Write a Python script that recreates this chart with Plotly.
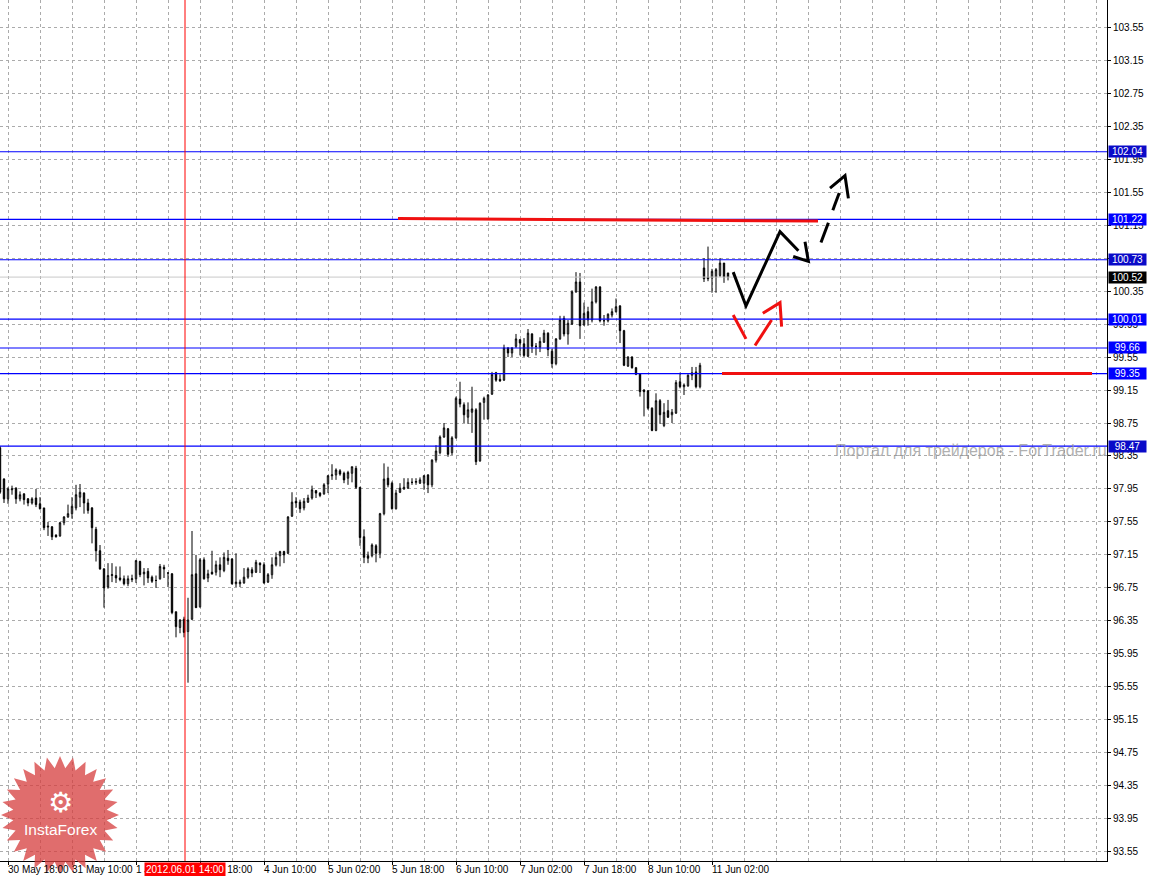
import plotly.graph_objects as go
import numpy as np

# ---------------- data (H1 bars, bar index 0 = 30 May 18:00) ----------------
bars = list(range(-2, 181))
opens = [98.45, 98.07, 97.83, 97.94, 97.96, 97.83, 97.89, 97.83, 97.78, 97.84,
         97.77, 97.72, 97.50, 97.49, 97.39, 97.38, 97.54, 97.61, 97.65, 97.72,
         97.85, 97.90, 97.78, 97.72, 97.46, 97.20, 96.98, 96.76, 96.90, 96.90,
         96.87, 96.86, 96.80, 96.85, 96.86, 97.07, 96.92, 96.95, 96.88, 96.84,
         96.86, 97.00, 96.93, 96.92, 96.46, 96.27, 96.37, 96.22, 96.37, 96.92,
         96.52, 97.09, 96.87, 96.94, 96.94, 97.03, 96.96, 97.11, 97.10, 96.80,
         96.80, 96.81, 96.88, 96.97, 96.94, 97.05, 97.03, 96.82, 96.91, 97.03,
         97.14, 97.19, 97.17, 97.62, 97.80, 97.79, 97.72, 97.79, 97.84, 97.93,
         97.90, 97.89, 98.01, 98.11, 98.12, 98.17, 98.14, 98.08, 98.14, 98.20,
         97.97, 97.37, 97.14, 97.14, 97.26, 97.17, 97.65, 98.08, 98.02, 97.71,
         97.91, 97.95, 97.96, 98.03, 98.03, 98.02, 98.02, 98.12, 98.00, 98.30,
         98.39, 98.58, 98.68, 98.39, 98.57, 99.04, 98.97, 98.82, 98.88, 98.91,
         98.29, 99.00, 98.80, 99.10, 99.36, 99.28, 99.27, 99.66, 99.60, 99.68,
         99.76, 99.71, 99.56, 99.83, 99.68, 99.67, 99.73, 99.84, 99.62, 99.47,
         99.77, 100.02, 99.83, 99.95, 100.34, 100.46, 99.94, 100.10, 100.00, 100.22,
         100.40, 99.99, 99.99, 100.06, 100.10, 100.17, 99.87, 99.44, 99.55, 99.42,
         99.35, 99.15, 99.14, 98.93, 98.66, 99.02, 98.72, 98.90, 98.85, 98.87,
         99.25, 99.19, 99.20, 99.33, 99.37, 99.19, 100.63, 100.52, 100.51, 100.52,
         100.54, 100.69, 100.57]
highs = [98.47, 98.08, 97.97, 97.99, 97.97, 97.92, 97.90, 97.84, 97.85, 97.95,
         97.85, 97.72, 97.55, 97.50, 97.40, 97.55, 97.62, 97.76, 97.85, 98.00,
         98.01, 97.91, 97.83, 97.73, 97.49, 97.27, 96.99, 97.05, 97.05, 97.01,
         97.01, 96.90, 96.90, 96.91, 97.09, 97.08, 96.99, 96.99, 96.90, 96.90,
         97.04, 97.03, 96.94, 96.93, 96.46, 96.37, 96.40, 96.63, 97.44, 97.15,
         97.11, 97.12, 96.97, 97.20, 97.08, 97.12, 97.18, 97.21, 97.11, 97.17,
         96.85, 96.99, 97.00, 97.00, 97.09, 97.06, 97.06, 96.93, 97.12, 97.18,
         97.20, 97.20, 97.62, 97.91, 97.85, 97.82, 97.84, 97.88, 97.99, 97.93,
         97.91, 98.02, 98.12, 98.25, 98.20, 98.19, 98.16, 98.17, 98.22, 98.23,
         97.97, 97.46, 97.19, 97.29, 97.28, 97.66, 98.26, 98.22, 98.04, 97.94,
         98.02, 98.08, 98.08, 98.08, 98.08, 98.09, 98.12, 98.13, 98.31, 98.48,
         98.60, 98.75, 98.69, 98.59, 99.07, 99.25, 99.00, 99.00, 99.19, 98.93,
         99.00, 99.07, 99.10, 99.37, 99.37, 99.34, 99.70, 99.67, 99.67, 99.83,
         99.77, 99.78, 99.89, 99.84, 99.72, 99.79, 99.88, 99.85, 99.65, 99.78,
         100.05, 100.05, 100.00, 100.36, 100.58, 100.57, 100.21, 100.16, 100.38, 100.41,
         100.41, 100.06, 100.08, 100.14, 100.26, 100.18, 99.88, 99.56, 99.56, 99.43,
         99.35, 99.16, 99.15, 98.94, 99.11, 99.04, 98.99, 99.03, 98.92, 99.27,
         99.36, 99.23, 99.34, 99.43, 99.43, 99.48, 100.75, 100.89, 100.62, 100.63,
         100.75, 100.69, 100.57]
lows = [97.89, 97.78, 97.77, 97.88, 97.77, 97.80, 97.76, 97.74, 97.76, 97.73,
        97.70, 97.45, 97.38, 97.33, 97.36, 97.37, 97.51, 97.60, 97.59, 97.69,
        97.73, 97.65, 97.65, 97.29, 97.07, 96.97, 96.51, 96.74, 96.82, 96.81,
        96.83, 96.78, 96.77, 96.82, 96.81, 96.88, 96.78, 96.81, 96.81, 96.75,
        96.85, 96.87, 96.76, 96.43, 96.15, 96.20, 96.15, 95.60, 96.36, 96.51,
        96.51, 96.85, 96.82, 96.91, 96.90, 96.88, 96.94, 97.03, 96.79, 96.76,
        96.76, 96.80, 96.86, 96.88, 96.93, 96.93, 96.80, 96.81, 96.86, 97.01,
        97.01, 97.05, 97.16, 97.61, 97.72, 97.66, 97.69, 97.78, 97.82, 97.84,
        97.85, 97.88, 97.90, 98.06, 98.06, 98.11, 98.02, 98.00, 98.03, 97.95,
        97.26, 97.05, 97.05, 97.12, 97.06, 97.11, 97.63, 97.97, 97.70, 97.70,
        97.90, 97.94, 97.95, 98.00, 98.00, 98.01, 97.94, 97.90, 97.97, 98.27,
        98.37, 98.57, 98.34, 98.36, 98.56, 98.94, 98.75, 98.74, 98.63, 98.24,
        98.28, 98.79, 98.79, 99.09, 99.25, 99.25, 99.26, 99.55, 99.55, 99.66,
        99.57, 99.55, 99.55, 99.60, 99.57, 99.61, 99.72, 99.56, 99.42, 99.45,
        99.76, 99.80, 99.70, 99.94, 100.33, 99.77, 99.93, 99.93, 99.97, 100.20,
        99.97, 99.93, 99.97, 100.03, 100.09, 99.72, 99.44, 99.43, 99.41, 99.33,
        99.07, 98.83, 98.91, 98.65, 98.65, 98.74, 98.70, 98.81, 98.75, 98.86,
        99.17, 99.09, 99.19, 99.27, 99.17, 99.17, 100.46, 100.47, 100.33, 100.33,
        100.52, 100.45, 100.48]
closes = [97.91, 97.83, 97.95, 97.95, 97.83, 97.88, 97.82, 97.78, 97.83, 97.76,
          97.71, 97.48, 97.49, 97.37, 97.37, 97.54, 97.61, 97.65, 97.74, 97.88,
          97.91, 97.78, 97.69, 97.48, 97.20, 96.98, 96.75, 96.90, 96.91, 96.87,
          96.85, 96.80, 96.86, 96.86, 97.08, 96.91, 96.94, 96.87, 96.83, 96.84,
          97.01, 96.98, 96.93, 96.45, 96.28, 96.36, 96.21, 96.36, 96.91, 96.51,
          97.09, 96.86, 96.92, 96.92, 97.03, 96.97, 97.12, 97.08, 96.80, 96.82,
          96.82, 96.88, 96.98, 96.93, 97.06, 97.03, 96.81, 96.91, 97.03, 97.12,
          97.19, 97.15, 97.61, 97.79, 97.78, 97.71, 97.80, 97.84, 97.94, 97.90,
          97.87, 98.00, 98.11, 98.12, 98.18, 98.13, 98.06, 98.15, 98.22, 97.97,
          97.36, 97.12, 97.11, 97.27, 97.17, 97.65, 98.07, 98.00, 97.71, 97.90,
          97.96, 97.97, 98.03, 98.03, 98.04, 98.06, 98.11, 98.00, 98.30, 98.41,
          98.58, 98.69, 98.37, 98.57, 99.05, 98.98, 98.85, 98.91, 98.92, 98.28,
          98.99, 99.05, 99.09, 99.34, 99.27, 99.26, 99.66, 99.60, 99.66, 99.77,
          99.72, 99.57, 99.84, 99.68, 99.68, 99.74, 99.84, 99.64, 99.47, 99.77,
          100.00, 99.83, 99.96, 100.34, 100.46, 99.93, 100.08, 100.00, 100.22, 100.40,
          99.99, 99.99, 100.07, 100.10, 100.16, 99.87, 99.45, 99.55, 99.42, 99.34,
          99.13, 99.13, 98.93, 98.66, 99.02, 98.85, 98.88, 98.82, 98.88, 99.24,
          99.19, 99.21, 99.33, 99.36, 99.19, 99.45, 100.50, 100.50, 100.59, 100.61,
          100.69, 100.52, 100.52]

tick_bars = [0, 16, 32, 48, 64, 80, 96, 112, 128, 144, 160, 176]
tick_labels = ["30 May 18:00", "31 May 10:00", "1 Jun 02:00", "1 Jun 18:00",
               "4 Jun 10:00", "5 Jun 02:00", "5 Jun 18:00", "6 Jun 10:00",
               "7 Jun 02:00", "7 Jun 18:00", "8 Jun 10:00", "11 Jun 02:00"]

level_prices = [102.04, 101.22, 100.73, 100.01, 99.66, 99.35, 98.47]
level_colors = ["#0A0AC8", "#0000FF", "#0A0AC8", "#0000FF", "#0000FF", "#0000FF", "#0A0AC8"]
bid_price = 100.52
cursor_bar = 44.25
cursor_label = "2012.06.01 14:00"

# analyst drawings (bar index, price)
res_line_x = [97.5, 202.5]
res_line_y = [101.23, 101.20]
sup_line_x = [178.5, 271.0]
sup_line_y = [99.35, 99.35]
black_path_x = [181.3, 184.5, 193.0, 197.6]
black_path_y = [100.58, 100.17, 101.07, 100.84]
black_head1_x = [199.25, 200.1, 196.3]
black_head1_y = [100.95, 100.71, 100.77]
black_dash_x = [[203.25, 205.1], [206.2, 207.8]]
black_dash_y = [[100.94, 101.18], [101.33, 101.54]]
black_head2_x = [205.5, 209.25, 210.1]
black_head2_y = [101.60, 101.75, 101.475]
red_seg_x = [[181.3, 184.5], [186.75, 190.9]]
red_seg_y = [[100.06, 99.77], [99.69, 100.00]]
red_head_x = [188.7, 193.0, 193.4]
red_head_y = [100.08, 100.21, 99.92]

X_RANGE = [-2, 274.75]
Y_RANGE = [93.437, 103.881]
FONT = "Liberation Sans"
GRID = "#ABABAB"

fig = go.Figure()
fig.add_trace(go.Candlestick(
    x=bars, open=opens, high=highs, low=lows, close=closes,
    increasing=dict(line=dict(color="black", width=1), fillcolor="white"),
    decreasing=dict(line=dict(color="black", width=1), fillcolor="black"),
    whiskerwidth=0, hoverinfo="skip", showlegend=False,
))


def path_from(xs, ys):
    return "M" + " L".join(f"{x},{y}" for x, y in zip(xs, ys))


shapes = []
# bid line
shapes.append(dict(type="line", xref="paper", x0=0, x1=1, yref="y", y0=bid_price, y1=bid_price,
                   line=dict(color="#C8C8C8", width=1), layer="above"))
# horizontal levels
for p, c in zip(level_prices, level_colors):
    shapes.append(dict(type="line", xref="paper", x0=0, x1=1, yref="y", y0=p, y1=p,
                       line=dict(color="#0000FF", width=1.2), layer="above"))
# cursor vertical line
shapes.append(dict(type="line", xref="x", x0=cursor_bar, x1=cursor_bar, yref="paper", y0=0, y1=1,
                   line=dict(color="#FF0000", width=1), layer="above"))
# red trend lines
shapes.append(dict(type="line", xref="x", yref="y", x0=res_line_x[0], y0=res_line_y[0],
                   x1=res_line_x[1], y1=res_line_y[1], line=dict(color="#F01010", width=3), layer="above"))
shapes.append(dict(type="line", xref="x", yref="y", x0=sup_line_x[0], y0=sup_line_y[0],
                   x1=sup_line_x[1], y1=sup_line_y[1], line=dict(color="#F01010", width=3), layer="above"))
# black scenario
shapes.append(dict(type="path", xref="x", yref="y", path=path_from(black_path_x, black_path_y),
                   line=dict(color="black", width=3), layer="above"))
shapes.append(dict(type="path", xref="x", yref="y", path=path_from(black_head1_x, black_head1_y),
                   line=dict(color="black", width=3), layer="above"))
for xs, ys in zip(black_dash_x, black_dash_y):
    shapes.append(dict(type="path", xref="x", yref="y", path=path_from(xs, ys),
                       line=dict(color="black", width=3), layer="above"))
shapes.append(dict(type="path", xref="x", yref="y", path=path_from(black_head2_x, black_head2_y),
                   line=dict(color="black", width=3), layer="above"))
# red scenario
for xs, ys in zip(red_seg_x, red_seg_y):
    shapes.append(dict(type="path", xref="x", yref="y", path=path_from(xs, ys),
                       line=dict(color="#F01010", width=3), layer="above"))
shapes.append(dict(type="path", xref="x", yref="y", path=path_from(red_head_x, red_head_y),
                   line=dict(color="#F01010", width=3), layer="above"))

# InstaForex starburst logo (decoration, pixel coordinates from bottom-left of plot)
n_spikes = 28
cx, cy, r_out, r_in = 60, 46, 59, 47
ang = np.linspace(0, 2 * np.pi, 2 * n_spikes, endpoint=False) + np.pi / 2
rad = np.where(np.arange(2 * n_spikes) % 2 == 0, r_out, r_in)
star = "M" + " L".join(f"{cx + r*np.cos(a):.1f},{cy + r*np.sin(a):.1f}" for r, a in zip(rad, ang)) + " Z"
shapes.append(dict(type="path", xref="paper", yref="paper", xsizemode="pixel", ysizemode="pixel",
                   xanchor=0, yanchor=0, path=star, fillcolor="rgba(214,60,60,0.75)",
                   line=dict(width=0), layer="above"))

annotations = []
annotations.append(dict(text="Портал для трейдеров - ForTrader.ru", xref="paper", x=833 / 1107,
                        xanchor="left", yref="y", y=98.42, yanchor="middle", showarrow=False,
                        font=dict(family=FONT, size=16, color="rgba(150,150,150,0.75)")))
annotations.append(dict(text="⚙", xref="paper", x=60 / 1107, yref="paper", y=59 / 861,
                        xanchor="center", yanchor="middle", showarrow=False,
                        font=dict(family="DejaVu Sans", size=28, color="white")))
annotations.append(dict(text="InstaForex", xref="paper", x=60 / 1107, yref="paper", y=32 / 861,
                        xanchor="center", yanchor="middle", showarrow=False,
                        font=dict(family=FONT, size=15.5, color="white")))
for tb, tl in zip(tick_bars, tick_labels):
    annotations.append(dict(text=tl, xref="x", x=tb, xanchor="left", xshift=-2, yref="paper", y=0,
                            yanchor="top", yshift=-1, showarrow=False,
                            font=dict(family=FONT, size=10, color="black")))
annotations.append(dict(text=cursor_label, xref="x", x=cursor_bar, xanchor="center", yref="paper", y=0,
                        yanchor="top", yshift=-1, showarrow=False, bgcolor="#FF0000", borderpad=1,
                        font=dict(family=FONT, size=10, color="white")))
for p, c in zip(level_prices, level_colors):
    annotations.append(dict(text=f"{p:.2f}", xref="paper", x=1, xanchor="left", xshift=1,
                            yref="y", y=p, yanchor="middle", showarrow=False, bgcolor=c, borderpad=0,
                            width=37, height=11, align="center",
                            font=dict(family=FONT, size=10, color="white")))
annotations.append(dict(text=f"{bid_price:.2f}", xref="paper", x=1, xanchor="left", xshift=1,
                        yref="y", y=bid_price, yanchor="middle", showarrow=False, bgcolor="black",
                        borderpad=0, width=37, height=11, align="center",
                        font=dict(family=FONT, size=10, color="white")))

fig.update_layout(
    width=1149, height=876,
    margin=dict(l=0, r=42, t=0, b=15, autoexpand=False),
    paper_bgcolor="white", plot_bgcolor="white",
    showlegend=False, boxgap=0.5,
    shapes=shapes, annotations=annotations,
    xaxis=dict(range=X_RANGE, rangeslider=dict(visible=False), tickmode="array",
               tickvals=tick_bars, showticklabels=False, ticks="outside", ticklen=3,
               tickcolor="black", showgrid=True, gridcolor=GRID, griddash="3px,3px",
               minor=dict(tickmode="linear", tick0=0, dtick=8, showgrid=True, gridcolor=GRID,
                          griddash="3px,3px", ticks=""),
               showline=True, linecolor="black", linewidth=1, zeroline=False, fixedrange=True),
    yaxis=dict(side="right", range=Y_RANGE, tickmode="linear", tick0=93.55, dtick=0.4,
               tickformat=".2f", showgrid=True, gridcolor=GRID, griddash="3px,3px",
               ticks="outside", ticklen=3, tickcolor="black", showline=True, linecolor="black",
               linewidth=1, zeroline=False, automargin=False, fixedrange=True,
               tickfont=dict(family=FONT, size=10, color="black")),
)

fig.write_html("out.html", config={"displayModeBar": False},
               post_script="document.body.style.margin='0px';document.body.style.padding='0px';")
